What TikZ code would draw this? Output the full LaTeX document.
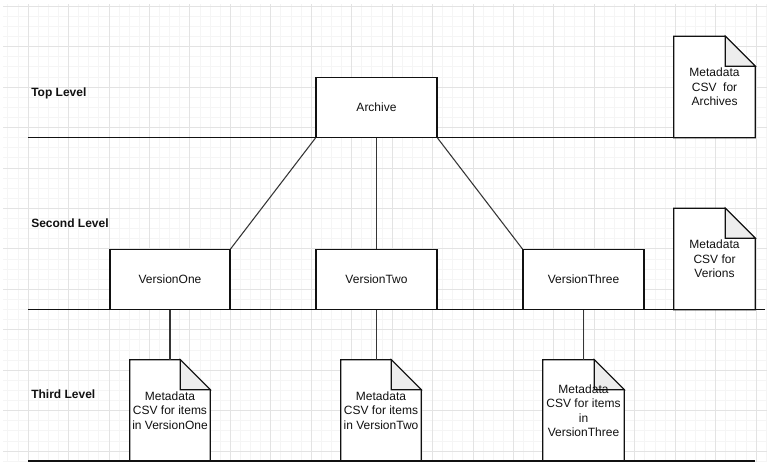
\documentclass[tikz,border=0pt]{standalone}
\usepackage{fontspec}
\setmainfont{Liberation Sans}
\pgfdeclarelayer{gridlayer}
\pgfdeclarelayer{doclayer}
\pgfsetlayers{gridlayer,doclayer,main}
\definecolor{minorgrid}{HTML}{F5F5F5}
\definecolor{majorgrid}{HTML}{E3E3E3}
\definecolor{foldgray}{HTML}{EDEDED}
\definecolor{ink}{HTML}{111111}
\tikzset{
  minorline/.style={draw=minorgrid, line width=0.75pt},
  majorline/.style={draw=majorgrid, line width=0.75pt},
  box/.style={draw=ink, fill=white, line width=0.8pt, minimum width=90.75pt, minimum height=45pt, inner sep=0pt, font=\fontsize{9}{10.9}\selectfont, text=ink},
  docnode/.style={minimum width=60.75pt, minimum height=75.75pt, inner sep=0pt, align=center, font=\fontsize{9}{10.9}\selectfont, text=ink},
  docline/.style={draw=ink, line width=0.8pt, line join=miter},
  lvl/.style={anchor=base west, inner sep=0pt, font=\fontsize{9}{10.9}\selectfont\bfseries, text=ink},
  conn/.style={draw=ink!85, line width=0.8pt},
  levelline/.style={draw=ink, line width=0.8pt}
}
\newcommand{\docshape}[1]{%
  \begin{pgfonlayer}{doclayer}
    \draw[docline, fill=white] (#1.north west) -- ([xshift=-22.5pt]#1.north east) -- ([yshift=-22.5pt]#1.north east) -- (#1.south east) -- (#1.south west) -- cycle;
    \draw[docline, fill=foldgray] ([xshift=-22.5pt]#1.north east) -- ([xshift=-22.5pt,yshift=-22.5pt]#1.north east) -- ([yshift=-22.5pt]#1.north east) -- cycle;
  \end{pgfonlayer}}
\begin{document}
\begin{tikzpicture}[x=0.75pt, y=-0.75pt]
\useasboundingbox (0,0) rectangle (767,462);
% grid
\begin{pgfonlayer}{gridlayer}
\fill[white] (0,0) rectangle (767,462);
\foreach \k in {-2,...,73} \draw[minorline] ({28.2+\k*10.11},4) -- ({28.2+\k*10.11},462);
\foreach \k in {0,...,45} \draw[minorline] (3,{6.3+\k*10.11}) -- (767,{6.3+\k*10.11});
\foreach \k in {0,...,18} \draw[majorline] ({28.2+\k*40.44},4) -- ({28.2+\k*40.44},462);
\foreach \k in {0,...,11} \draw[majorline] (3,{6.3+\k*40.44}) -- (767,{6.3+\k*40.44});
\end{pgfonlayer}

% level labels
\node[lvl] (toplbl) at (31,96.5) {Top Level};
\node[lvl] (seclbl) at (31,227.5) {Second Level};
\node[lvl] (thirdlbl) at (31,398.5) {Third Level};

% level lines
\coordinate (l1s) at (28,137.5); \coordinate (l1e) at (756,137.5);
\coordinate (l2s) at (28,309.5); \coordinate (l2e) at (765,309.5);
\coordinate (l3s) at (28,461); \coordinate (l3e) at (755,461);
\draw[levelline] (l1s) -- (l1e);
\draw[levelline] (l2s) -- (l2e);
\draw[levelline] (l3s) -- (l3e);

% boxes
\node[box] (archive) at (376.5,107.5) {Archive};
\node[box, minimum width=90pt] (v1) at (170,279.5) {VersionOne};
\node[box] (v2) at (376.5,279.5) {VersionTwo};
\node[box] (v3) at (583.5,279.5) {VersionThree};

% documents
\node[docnode] (docA) at (714.5,87) {Metadata\\CSV~ for\\Archives};
\docshape{docA}
\node[docnode] (docV) at (714.5,259) {Metadata\\CSV for\\Verions};
\docshape{docV}
\node[docnode, minimum width=60pt] (d1) at (170,410.5) {Metadata\\CSV for items\\in VersionOne};
\docshape{d1}
\node[docnode, minimum width=60pt] (d2) at (381,410.5) {Metadata\\CSV for items\\in VersionTwo};
\docshape{d2}
\node[docnode] (d3) at (583.5,410.5) {Metadata\\CSV for items\\in\\VersionThree};
\docshape{d3}

% connectors
\draw[conn] (archive.south west) -- (v1.north east);
\draw[conn] (archive.south) -- (v2.north);
\draw[conn] (archive.south east) -- (v3.north west);
\draw[conn] (v1.south) -- (d1.north);
\draw[conn] (v2.south) -- (v2.south |- d2.north);
\draw[conn] (v3.south) -- (d3.north);
\end{tikzpicture}
\end{document}
